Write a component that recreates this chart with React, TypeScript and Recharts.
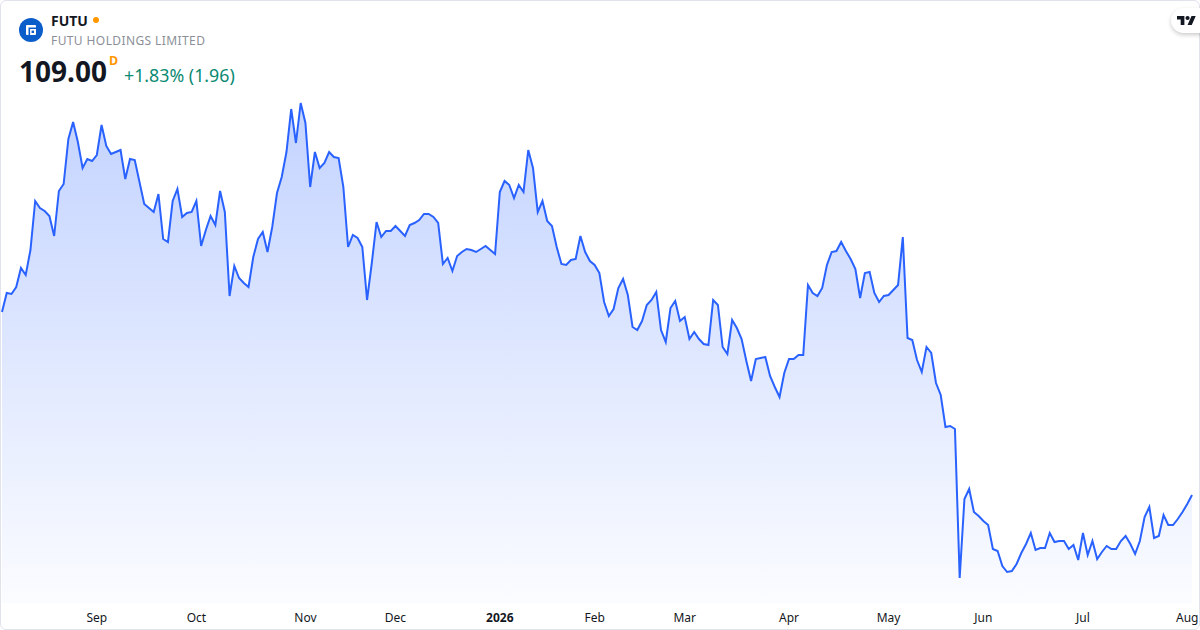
import React from "react";
import { AreaChart, Area, XAxis, YAxis } from "recharts";

// daily closes, one year
const closes = [
  154.75, 159.5, 159.25, 161, 165.75, 164, 170.25, 182.5, 180.75, 180,
  178.75, 173.75, 185, 186.75, 198, 202.25, 197.25, 190.75, 193, 192.5,
  194, 201.5, 196.25, 194.25, 194.75, 195.25, 188, 193, 192.75, 187.25,
  181.75, 180.75, 179.75, 184.25, 173, 172.25, 182.5, 185.5, 178.5, 179.5,
  179.75, 182.5, 171.25, 175.25, 178.75, 176.5, 185, 179.75, 158.75, 166.25,
  163.25, 162, 161, 168.5, 173, 174.75, 169.75, 176, 184.5, 188.5,
  194.75, 205.5, 197, 207, 202, 186, 194.75, 190.75, 192, 194.75,
  193.5, 193.25, 186, 171, 174, 173.25, 171, 157.75, 167, 177.25,
  173.5, 175, 175, 176.25, 175, 173.75, 176.5, 177, 177.75, 179.25,
  179.25, 178.5, 177, 166.75, 168.25, 165, 168.75, 169.75, 170.5, 170.25,
  169.75, 170.5, 171.25, 170.25, 169.25, 184.75, 187.5, 186.5, 183.25, 186.5,
  184.75, 195.25, 190.75, 179.75, 182.5, 177.5, 176.25, 171, 166.75, 166.5,
  167.75, 168, 173.75, 169.75, 167.5, 166.5, 164.5, 157.25, 153.75, 155.5,
  160.75, 163, 159, 151, 150.25, 152.5, 156.5, 157.75, 159.75, 150.25,
  147.25, 155.75, 157.5, 152.5, 153.5, 148, 149.75, 148, 146.75, 146.5,
  157.75, 156.5, 146, 144.25, 152.75, 150.75, 148, 142.5, 137.5, 143,
  143.25, 143.5, 138.75, 136, 133.5, 139.5, 143, 143, 144, 144,
  161.5, 159.5, 158.75, 160.75, 166.5, 169.75, 170, 172.25, 170, 168,
  165.5, 158.25, 164.5, 164.75, 159.5, 157.25, 158.75, 159, 160.25, 161.5,
  173.5, 148.25, 147.75, 142.75, 139.75, 146, 144.5, 137, 134, 126,
  126.25, 125.5, 88.25, 108, 110.5, 104.75, 103.75, 102.5, 101.5, 95.5,
  95, 91.25, 89.75, 90, 91.75, 94.5, 96.75, 99.5, 95.25, 95.75,
  95.75, 99.5, 97.25, 97.5, 97.5, 95.5, 96.5, 92.75, 99.5, 94,
  97.5, 93, 94.75, 96.25, 95.5, 95.5, 97.5, 98.75, 96.75, 94.25,
  97.5, 103.5, 106, 98.25, 98.75, 104, 101.5, 101.5, 103, 104.75,
  106.75, 109,
];

const tickIndexes = [20, 41, 64, 83, 105, 125, 144, 166, 187, 207, 228, 250];
const tickLabels = ["Sep", "Oct", "Nov", "Dec", "2026", "Feb", "Mar", "Apr", "May", "Jun", "Jul", "Aug"];

const chartData = closes.map((close, i) => ({ i, close }));

const FONT = '"Noto Sans", "Open Sans", sans-serif';

function MonthTick({ x, y, payload }: any) {
  const label = tickLabels[tickIndexes.indexOf(payload.value)];
  const isYear = label === "2026";
  return (
    <text
      x={x}
      y={y}
      dy={5}
      textAnchor="middle"
      fontFamily={FONT}
      fontSize={12}
      fontWeight={isYear ? 700 : 400}
      fill="#131722"
    >
      {label}
    </text>
  );
}

export default function App() {
  return (
    <div
      style={{
        position: "absolute",
        left: 0,
        top: 0,
        width: 1200,
        height: 630,
        overflow: "hidden",
        background: "#fff",
        fontFamily: FONT,
      }}
    >
      <AreaChart
        width={1200}
        height={630}
        data={chartData}
        margin={{ top: 0, right: 8, bottom: 0, left: 2 }}
      >
        <defs>
          <linearGradient id="areaFill" x1="0" y1="0" x2="0" y2="1">
            <stop offset="0%" stopColor="#2962ff" stopOpacity={0.28} />
            <stop offset="100%" stopColor="#2962ff" stopOpacity={0.02} />
          </linearGradient>
        </defs>
        <XAxis
          dataKey="i"
          type="number"
          domain={[0, 251]}
          ticks={tickIndexes}
          interval={0}
          height={27}
          axisLine={false}
          tickLine={false}
          tickMargin={8}
          tick={<MonthTick />}
        />
        <YAxis hide domain={[82, 232.75]} />
        <Area
          type="linear"
          dataKey="close"
          stroke="#2962ff"
          strokeWidth={2}
          fill="url(#areaFill)"
          fillOpacity={1}
          dot={false}
          activeDot={false}
          isAnimationActive={false}
        />
      </AreaChart>

      {/* card border */}
      <div
        style={{
          position: "absolute",
          inset: 0,
          boxSizing: "border-box",
          border: "1px solid #e0e3eb",
          borderRadius: 6,
          pointerEvents: "none",
        }}
      />

      {/* header */}
      <svg width={24} height={24} viewBox="0 0 24 24" style={{ position: "absolute", left: 19, top: 18 }}>
        <circle cx={12} cy={12} r={12} fill="#0b5ec9" />
        <rect x={7} y={7} width={10} height={10} rx={1} fill="#fff" />
        <path d="M9.5 9.5h7.5v1.6h-5.9V17H9.5z" fill="#0b5ec9" />
        <rect x={12.6} y={12.6} width={2.4} height={2.4} fill="#0b5ec9" />
      </svg>
      <div style={{ position: "absolute", left: 51, top: 12, fontSize: 14, fontWeight: 700, lineHeight: "18px", color: "#131722" }}>
        FUTU
      </div>
      <div style={{ position: "absolute", left: 93, top: 17, width: 6, height: 6, borderRadius: 3, background: "#ff9800" }} />
      <div style={{ position: "absolute", left: 51, top: 32, fontSize: 12, letterSpacing: 0.4, lineHeight: "18px", color: "#8c8f98" }}>
        FUTU HOLDINGS LIMITED
      </div>
      <div style={{ position: "absolute", left: 19, top: 52, fontSize: 28, fontWeight: 700, lineHeight: "38px", color: "#131722" }}>
        109.00
      </div>
      <div style={{ position: "absolute", left: 109, top: 53, fontSize: 12.5, fontWeight: 700, lineHeight: "16px", color: "#ff9800" }}>
        D
      </div>
      <div style={{ position: "absolute", left: 124, top: 63, fontSize: 17.8, lineHeight: "24px", color: "#0b8a73" }}>
        +1.83% (1.96)
      </div>

      {/* attribution badge */}
      <div
        style={{
          position: "absolute",
          left: 1171,
          top: 8,
          width: 50,
          height: 25,
          borderRadius: 13,
          background: "#fff",
          boxShadow: "0 2px 4px rgba(0,0,0,0.2)",
        }}
      />
      <svg width={19} height={14} viewBox="0 0 36 28" preserveAspectRatio="none" style={{ position: "absolute", left: 1177, top: 14 }}>
        <path d="M14 22H7V11H0V4h14v18zM28 22h-8l7.5-18h8L28 22z" fill="#131722" />
        <circle cx={20} cy={8} r={4} fill="#131722" />
      </svg>
    </div>
  );
}
